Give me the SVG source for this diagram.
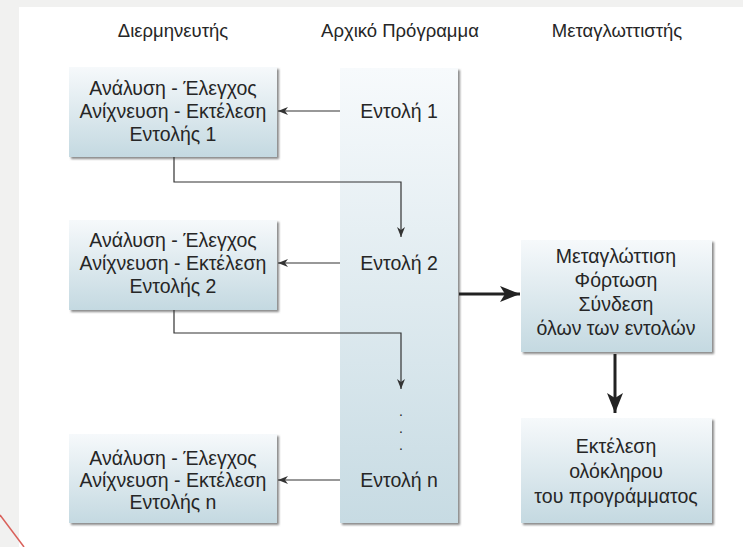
<svg xmlns="http://www.w3.org/2000/svg" width="743" height="547" viewBox="0 0 743 547">
  <defs>
    <linearGradient id="boxGrad" x1="0" y1="0" x2="0" y2="1">
      <stop offset="0" stop-color="#f6f9fb"/>
      <stop offset="1" stop-color="#c4d9e1"/>
    </linearGradient>
    <linearGradient id="colGrad" x1="0" y1="0" x2="0" y2="1">
      <stop offset="0" stop-color="#f7fafc"/>
      <stop offset="1" stop-color="#c7dbe3"/>
    </linearGradient>
    <filter id="blur" x="-10%" y="-10%" width="120%" height="120%">
      <feGaussianBlur stdDeviation="1"/>
    </filter>
    <marker id="thin" viewBox="0 0 10 8" refX="10" refY="4" markerWidth="10" markerHeight="8" markerUnits="userSpaceOnUse" orient="auto">
      <path d="M0,0 L10,4 L0,8 L3,4 Z" fill="#333"/>
    </marker>
    <marker id="thick" viewBox="0 0 20 16" refX="20" refY="8" markerWidth="20" markerHeight="16" markerUnits="userSpaceOnUse" orient="auto">
      <path d="M0,0 L20,8 L0,16 L5,8 Z" fill="#222"/>
    </marker>
  </defs>
  <style>
    text { font-family: "Liberation Sans", "DejaVu Sans", sans-serif; font-size: 19.5px; fill: #262626; text-anchor: middle; }
    .head { font-size: 18.5px; }
    .dot { font-size: 14px; }
    .shadow { fill: #8a8a8a; filter: url(#blur); }
    .box { fill: url(#boxGrad); }
    .col { fill: url(#colGrad); }
    .thin { fill: none; stroke: #333; stroke-width: 1.2; marker-end: url(#thin); }
    .thick { fill: none; stroke: #222; stroke-width: 3; marker-end: url(#thick); }
  </style>

  <rect x="0" y="0" width="743" height="547" fill="#f1f1f0"/>
  <rect x="19" y="7" width="724" height="540" fill="#ffffff"/>
  <line x1="0" y1="515" x2="24" y2="547" stroke="#d9605a" stroke-width="1.5"/>

  <g id="headers">
    <text class="head" x="173" y="37">Διερμηνευτής</text>
    <text class="head" x="400" y="37">Αρχικό Πρόγραμμα</text>
    <text class="head" x="617" y="37">Μεταγλωττιστής</text>
  </g>

  <g id="program">
    <rect class="shadow" x="342" y="70" width="118" height="455"/>
    <rect class="col" x="340" y="68" width="118" height="455"/>
    <text x="399" y="118">Εντολή 1</text>
    <text x="399" y="270">Εντολή 2</text>
    <text class="dot" x="401" y="416">.</text>
    <text class="dot" x="401" y="433">.</text>
    <text class="dot" x="401" y="450">.</text>
    <text x="399" y="487">Εντολή n</text>
  </g>

  <g id="interp1">
    <rect class="shadow" x="71" y="69" width="208" height="90"/>
    <rect class="box" x="69" y="67" width="208" height="90"/>
    <text x="173" y="95">Ανάλυση - Έλεγχος</text>
    <text x="173" y="118">Ανίχνευση - Εκτέλεση</text>
    <text x="173" y="141">Εντολής 1</text>
  </g>

  <g id="interp2">
    <rect class="shadow" x="71" y="222" width="208" height="90"/>
    <rect class="box" x="69" y="220" width="208" height="90"/>
    <text x="173" y="247">Ανάλυση - Έλεγχος</text>
    <text x="173" y="270">Ανίχνευση - Εκτέλεση</text>
    <text x="173" y="293">Εντολής 2</text>
  </g>

  <g id="interpn">
    <rect class="shadow" x="71" y="436" width="208" height="89"/>
    <rect class="box" x="69" y="434" width="208" height="89"/>
    <text x="173" y="465">Ανάλυση - Έλεγχος</text>
    <text x="173" y="487">Ανίχνευση - Εκτέλεση</text>
    <text x="173" y="509">Εντολής n</text>
  </g>

  <g id="compile">
    <rect class="shadow" x="523" y="242" width="191" height="112"/>
    <rect class="box" x="521" y="240" width="191" height="112"/>
    <text x="616" y="263">Μεταγλώττιση</text>
    <text x="616" y="287">Φόρτωση</text>
    <text x="616" y="311">Σύνδεση</text>
    <text x="616" y="335">όλων των εντολών</text>
  </g>

  <g id="execute">
    <rect class="shadow" x="523" y="420" width="191" height="105"/>
    <rect class="box" x="521" y="418" width="191" height="105"/>
    <text x="616" y="453">Εκτέλεση</text>
    <text x="616" y="478">ολόκληρου</text>
    <text x="616" y="503">του προγράμματος</text>
  </g>

  <g id="connectors">
    <line class="thin" x1="340" y1="111" x2="278" y2="111"/>
    <line class="thin" x1="340" y1="263" x2="278" y2="263"/>
    <line class="thin" x1="340" y1="480" x2="278" y2="480"/>
    <polyline class="thin" points="174,157 174,182 401,182 401,237"/>
    <polyline class="thin" points="174,310 174,333 401,333 401,389"/>
    <line class="thick" x1="459" y1="294" x2="520" y2="294"/>
    <line class="thick" x1="615" y1="354" x2="615" y2="413"/>
  </g>
</svg>
